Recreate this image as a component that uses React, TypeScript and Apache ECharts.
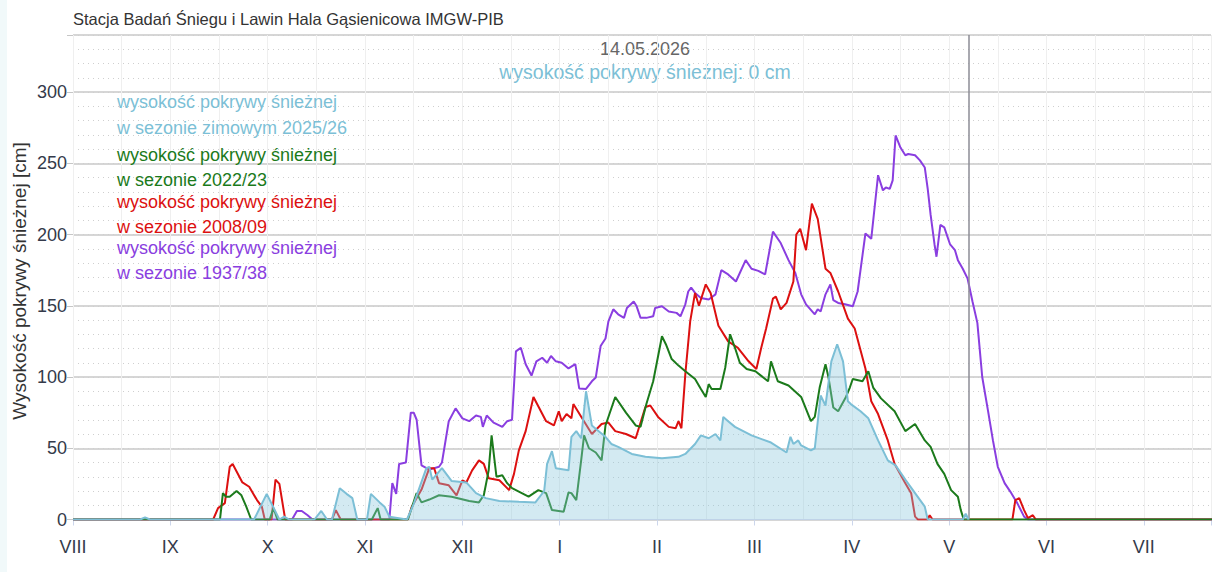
import React, { useEffect, useRef } from 'react';
import * as echarts from 'echarts';

// x values: months since 1 August (equal-width months), y values: snow depth [cm]
const monthLabels = ['VIII', 'IX', 'X', 'XI', 'XII', 'I', 'II', 'III', 'IV', 'V', 'VI', 'VII'];
const xMax = 11.69;
const todayPos = 9.2;
const todayLabel = '14.05.2026';
const todayText = 'wysokość pokrywy śnieżnej: 0 cm';
const chartTitle = 'Stacja Badań Śniegu i Lawin Hala Gąsienicowa IMGW-PIB';
const yAxisTitle = 'Wysokość pokrywy śnieżnej [cm]';

const season2526: number[][] = [[0,0],[0.69,0],[0.74,1.5],[0.79,0],[1.86,0],[1.99,18],[2.12,0],[2.17,2],[2.22,0],[2.48,0],[2.55,6],[2.61,0],[2.66,0],[2.74,22],[2.81,18],[2.87,15],[2.92,0],[3.02,0],[3.06,18],[3.15,12],[3.20,9],[3.25,2],[3.43,0],[3.50,11],[3.63,36],[3.66,37],[3.69,28],[3.79,36],[3.89,27],[4.04,26],[4.14,18.5],[4.24,15],[4.38,13],[4.58,12.4],[4.75,12],[4.84,20],[4.87,39],[4.92,48],[4.96,36],[5.09,34.5],[5.12,58],[5.17,62],[5.22,57],[5.27,90],[5.33,66],[5.40,62],[5.47,58],[5.53,53],[5.60,51],[5.74,46],[5.88,44],[6.05,43],[6.22,44],[6.29,46],[6.39,53],[6.45,59],[6.53,57],[6.60,60],[6.65,55.5],[6.68,72],[6.73,69],[6.80,65],[6.97,59],[7.17,54],[7.33,47],[7.37,58],[7.40,53],[7.45,55.5],[7.48,52],[7.58,48.5],[7.62,50],[7.68,87],[7.73,80],[7.79,111],[7.85,123],[7.91,111],[7.96,83],[7.99,81],[8.09,76],[8.17,71],[8.27,55.5],[8.37,41.5],[8.45,38],[8.55,28],[8.65,18.5],[8.75,9],[8.78,0],[9.14,0],[9.17,4],[9.20,0]];

const season2223: number[][] = [[0,0],[1.51,0],[1.54,18.5],[1.57,16],[1.61,16],[1.68,20],[1.73,17],[1.78,9],[1.83,0],[2.02,0],[2.06,8],[2.10,0],[3.07,0],[3.13,8],[3.16,0],[3.44,0],[3.53,18.5],[3.58,12],[3.66,14],[3.76,17],[3.89,16],[4.07,13],[4.17,12],[4.22,17],[4.27,34.5],[4.30,59],[4.35,30],[4.41,31],[4.46,25.5],[4.51,22],[4.61,18.5],[4.68,16],[4.78,20.6],[4.86,18.5],[4.92,6.6],[5.04,5.4],[5.09,19],[5.12,18.5],[5.17,13.6],[5.22,41.5],[5.25,59],[5.30,50],[5.37,47],[5.43,41.5],[5.47,66],[5.57,86],[5.68,75],[5.78,66],[5.83,65],[5.89,81],[5.96,97],[6.05,128.6],[6.09,123],[6.15,112.6],[6.22,108],[6.29,104],[6.39,98.6],[6.45,91.6],[6.50,86],[6.53,95],[6.56,91.6],[6.65,91.6],[6.70,106.5],[6.75,130],[6.80,120.5],[6.85,110],[6.92,105.6],[7.01,104],[7.07,100.8],[7.14,97],[7.17,111],[7.21,103],[7.24,97],[7.35,94],[7.48,86],[7.58,69],[7.62,72],[7.67,92.6],[7.73,109],[7.76,100],[7.81,78.6],[7.86,76],[7.94,86],[7.98,92.6],[8.01,98.6],[8.11,97],[8.17,104],[8.22,92.6],[8.30,85],[8.44,76],[8.55,62],[8.65,67],[8.75,55.5],[8.81,51],[8.88,39],[8.95,32],[9.02,20.6],[9.09,16],[9.12,6.6],[9.15,0],[12,0]];

const season0809: number[][] = [[0,0],[1.44,0],[1.49,8],[1.56,11.5],[1.61,37],[1.64,39],[1.74,26],[1.81,23],[1.89,13.6],[1.94,9],[1.97,0],[2.04,0],[2.08,28],[2.12,25],[2.18,0],[2.66,0],[2.70,6.6],[2.75,0],[3.44,0],[3.48,9],[3.58,21],[3.66,36],[3.71,36],[3.76,25.5],[3.86,24],[3.94,17],[4.00,27.5],[4.04,26],[4.10,34.5],[4.17,41.5],[4.22,39],[4.27,29],[4.38,27.5],[4.48,20.6],[4.53,32],[4.58,48.5],[4.65,62],[4.73,86],[4.86,69],[4.94,66],[4.99,76],[5.02,69],[5.07,74],[5.12,71],[5.14,81],[5.23,71],[5.33,60],[5.43,67],[5.50,68],[5.57,62],[5.68,60],[5.78,57],[5.88,79],[5.93,80],[6.01,72],[6.12,65],[6.19,64],[6.22,69],[6.25,64],[6.29,102],[6.34,139],[6.39,159],[6.43,150],[6.50,165],[6.55,159],[6.63,136],[6.73,125],[6.83,120.5],[6.94,111],[7.02,105.6],[7.07,120.5],[7.12,134],[7.19,155],[7.22,156.5],[7.27,147.5],[7.33,152],[7.40,167],[7.43,200],[7.47,204],[7.53,189],[7.59,221.6],[7.65,211],[7.73,176],[7.78,173],[7.86,160],[7.96,141],[8.03,134],[8.14,106],[8.20,83],[8.27,74],[8.37,55.5],[8.44,39],[8.55,25.5],[8.61,18.5],[8.65,2],[8.68,0],[8.78,0],[8.80,3],[8.83,0],[9.65,0],[9.68,13.6],[9.72,15],[9.77,6.6],[9.81,1],[9.86,3],[9.89,0],[12,0]];

const season3738: number[][] = [[0,0],[2.25,0],[2.30,6],[2.35,6],[2.41,3],[2.46,0],[3.25,0],[3.28,25.5],[3.32,18],[3.35,39],[3.42,40],[3.47,75],[3.50,75],[3.53,70],[3.58,38],[3.66,35],[3.76,37],[3.79,40],[3.86,69],[3.93,78],[4.00,71],[4.07,69],[4.14,73],[4.19,72],[4.21,65],[4.25,73],[4.32,68],[4.41,65],[4.46,69],[4.51,70],[4.55,118],[4.60,120.5],[4.65,109],[4.71,101],[4.76,111],[4.82,113.5],[4.87,110],[4.91,114.7],[4.96,111],[5.02,110],[5.09,106],[5.16,109],[5.20,92],[5.27,91.6],[5.33,97],[5.37,99.6],[5.42,121.7],[5.47,127],[5.50,139],[5.55,147.5],[5.60,144],[5.66,141.5],[5.69,148.4],[5.76,153],[5.79,149.6],[5.83,141.5],[5.89,141.5],[5.96,142.6],[5.98,148.4],[6.05,149.6],[6.12,146],[6.20,145],[6.24,142.6],[6.29,151],[6.32,160],[6.35,162.8],[6.39,159],[6.45,155.4],[6.53,154.4],[6.60,158],[6.66,175],[6.73,172],[6.81,167],[6.91,182],[6.97,176],[7.04,174.5],[7.11,172],[7.19,202],[7.27,194],[7.35,182],[7.42,173],[7.48,158],[7.53,151],[7.62,144],[7.65,147.5],[7.68,146],[7.73,158],[7.78,165],[7.81,154],[7.86,152],[7.93,151],[8.01,149.6],[8.06,160],[8.14,200.7],[8.20,197],[8.27,241.6],[8.32,231],[8.35,233],[8.39,232],[8.42,238],[8.45,269.5],[8.50,261],[8.55,255.6],[8.58,256.5],[8.65,255.6],[8.70,252],[8.75,247],[8.78,232],[8.81,213.7],[8.85,193],[8.87,184.4],[8.91,206.7],[8.95,205],[9.01,193],[9.06,189],[9.09,182],[9.14,176],[9.19,169],[9.24,153],[9.29,138],[9.34,100],[9.40,76],[9.45,55.5],[9.50,37],[9.57,25.5],[9.63,19.4],[9.70,11.5],[9.77,2],[9.81,0],[12,0]];

const legendLines = [
  { lines: ['wysokość pokrywy śnieżnej', 'w sezonie zimowym 2025/26'], color: '#7cbfd6', ys: [102, 128] },
  { lines: ['wysokość pokrywy śnieżnej', 'w sezonie 2022/23'], color: '#1b7a1b', ys: [155, 180] },
  { lines: ['wysokość pokrywy śnieżnej', 'w sezonie 2008/09'], color: '#dc1010', ys: [202, 227] },
  { lines: ['wysokość pokrywy śnieżnej', 'w sezonie 1937/38'], color: '#8a3ee0', ys: [248, 273] },
];

const FONT = '"Liberation Sans", Arial, sans-serif';

export default function App() {
  const ref = useRef<HTMLDivElement>(null);
  useEffect(() => {
    document.body.style.margin = '0';
    const chart = echarts.init(ref.current!, null, { renderer: 'svg' });
    const graphic: any[] = [
      { type: 'rect', left: 0, top: 0, shape: { width: 7, height: 572 }, style: { fill: '#f1f9fa' }, silent: true },
      { type: 'text', x: 73, y: 19, style: { text: chartTitle, font: `16.5px ${FONT}`, fill: '#333', verticalAlign: 'middle' } },
      { type: 'text', x: 645, y: 49, style: { text: todayLabel, font: `18px ${FONT}`, fill: '#666', align: 'center', verticalAlign: 'middle' } },
      { type: 'text', x: 645, y: 72, style: { text: todayText, font: `19.5px ${FONT}`, fill: '#7cbfd6', align: 'center', verticalAlign: 'middle' } },
      { type: 'text', x: 19, y: 281, rotation: Math.PI / 2, style: { text: yAxisTitle, font: `19px ${FONT}`, fill: '#333', align: 'center', verticalAlign: 'middle' } },
    ];
    legendLines.forEach((item) => {
      item.lines.forEach((t, i) => {
        graphic.push({ type: 'text', x: 117, y: item.ys[i], z: 100, style: { text: t, font: `18px ${FONT}`, fill: item.color, verticalAlign: 'middle' } });
      });
    });
    const lineSeries = (data: number[][], color: string, z: number) => ({
      type: 'line', data, symbol: 'none', showSymbol: false, z,
      lineStyle: { color, width: 2 }, itemStyle: { color }, xAxisIndex: 0, yAxisIndex: 0,
    });
    chart.setOption({
      animation: false,
      grid: { left: 73, right: 0, top: 35, bottom: 52.5, containLabel: false },
      xAxis: [
        {
          type: 'value', min: 0, max: xMax, interval: 1, position: 'bottom',
          axisLine: { show: true, lineStyle: { color: '#ccd6eb', width: 1 } },
          axisTick: { show: true, length: 6, lineStyle: { color: '#ccd6eb' } },
          axisLabel: {
            margin: 18, color: '#343a4a', fontSize: 18, fontFamily: FONT,
            formatter: (v: number) => (Number.isInteger(v) && v < monthLabels.length ? monthLabels[v] : ''),
          },
          splitLine: { show: true, lineStyle: { color: '#e6e6e6', width: 1 } },
        },
        {
          type: 'value', min: 0, max: xMax, interval: 0.5, position: 'top',
          axisLine: { show: false }, axisTick: { show: false }, axisLabel: { show: false },
          splitLine: { show: true, lineStyle: { color: '#efefef', width: 1 } },
        },
      ],
      yAxis: [
        {
          type: 'value', min: 0, max: 340, interval: 50,
          axisLine: { show: false },
          axisTick: { show: true, length: 6, lineStyle: { color: '#c6c6c6' } },
          axisLabel: {
            margin: 6, color: '#343a4a', fontSize: 18, fontFamily: FONT,
            formatter: (v: number) => (v <= 300 ? String(v) : ''),
          },
          splitLine: { show: true, lineStyle: { color: '#c8c8c8', width: 1.5 } },
        },
        {
          type: 'value', min: 0, max: 340, interval: 10, position: 'right',
          axisLine: { show: false }, axisTick: { show: false }, axisLabel: { show: false },
          splitLine: { show: true, lineStyle: { color: '#cfcfcf', width: 1, type: [1, 4] } },
        },
      ],
      graphic,
      series: [
        lineSeries(season3738, '#8a3ee0', 2),
        lineSeries(season0809, '#dc1010', 3),
        lineSeries(season2223, '#1b7a1b', 4),
        {
          type: 'line', data: season2526, symbol: 'none', showSymbol: false, z: 5,
          lineStyle: { color: '#7cbfd6', width: 2 }, itemStyle: { color: '#7cbfd6' },
          areaStyle: { color: 'rgba(140,200,222,0.55)' },
          markLine: {
            silent: true, symbol: ['none', 'none'], label: { show: false },
            lineStyle: { color: '#8c8c96', width: 1.5, type: 'solid' },
            data: [{ xAxis: todayPos }],
          },
        },
      ],
    });
    return () => chart.dispose();
  }, []);
  return <div ref={ref} style={{ width: 1214, height: 572 }} />;
}
